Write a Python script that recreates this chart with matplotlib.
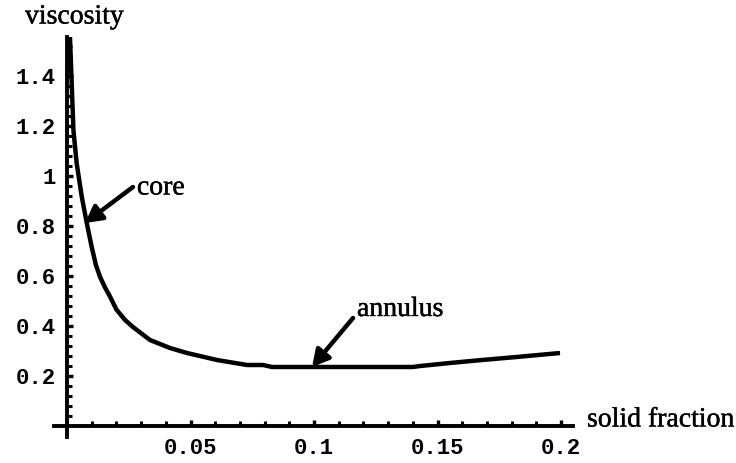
import matplotlib
matplotlib.use("Agg")
import matplotlib.pyplot as plt
import matplotlib.patheffects as pe
import numpy as np
from matplotlib.ticker import FixedLocator

# ---- data ----
solid_fraction = [0.0012, 0.0026, 0.0039, 0.0060, 0.0080, 0.0100, 0.0117, 0.0134,
                  0.0154, 0.0174, 0.0200, 0.0235, 0.0267, 0.0336, 0.0417, 0.0486,
                  0.0607, 0.0729, 0.0794, 0.0830, 0.0900, 0.1000, 0.1100, 0.1200,
                  0.1300, 0.1400, 0.1430, 0.1550, 0.1680, 0.1820, 0.1996]
viscosity = [1.556, 1.184, 1.052, 0.916, 0.812, 0.716, 0.644, 0.596,
             0.554, 0.518, 0.466, 0.424, 0.396, 0.344, 0.312, 0.292,
             0.264, 0.244, 0.244, 0.236, 0.236, 0.236, 0.236, 0.236,
             0.236, 0.236, 0.240, 0.252, 0.264, 0.276, 0.292]

x_ticks = [0.05, 0.1, 0.15, 0.2]
x_tick_labels = ["0.05", "0.1", "0.15", "0.2"]
y_ticks = [0.2, 0.4, 0.6, 0.8, 1.0, 1.2, 1.4]
y_tick_labels = ["0.2", "0.4", "0.6", "0.8", "1", "1.2", "1.4"]

x_label = "solid fraction"
y_label = "viscosity"
annotations = [("core", (0.0073, 0.812), (0.0267, 0.956), (0.0283, 0.952)),
               ("annulus", (0.0992, 0.236), (0.1158, 0.432), (0.1174, 0.466))]

# ---- figure ----
W, H, DPI = 736, 463, 100
fig = plt.figure(figsize=(W / DPI, H / DPI), dpi=DPI)
ax = fig.add_axes([0, 0, 1, 1])

x0_px, x_scale = 67, 2470.0
y0_px, y_scale = 426, 250.0
ax.set_xlim(-x0_px / x_scale, (W - x0_px) / x_scale)
ax.set_ylim(-(H - y0_px) / y_scale, y0_px / y_scale)

ax.plot(solid_fraction, viscosity, color="black", lw=3.2,
        solid_joinstyle="round", solid_capstyle="butt")

for s in ["top", "right"]:
    ax.spines[s].set_visible(False)
ax.spines["left"].set_position(("data", 0))
ax.spines["bottom"].set_position(("data", 0))
ax.spines["left"].set_bounds(-0.044, 1.556)
ax.spines["bottom"].set_bounds(-0.0053, 0.205)
for s in ["left", "bottom"]:
    ax.spines[s].set_linewidth(2.8)
    ax.spines[s].set_color("black")

ax.xaxis.set_major_locator(FixedLocator(x_ticks))
ax.set_xticklabels(x_tick_labels)
ax.xaxis.set_minor_locator(FixedLocator(np.round(np.arange(0.01, 0.2001, 0.01), 4)))
ax.yaxis.set_major_locator(FixedLocator(y_ticks))
ax.set_yticklabels(y_tick_labels)
ax.yaxis.set_minor_locator(FixedLocator(np.round(np.arange(0.04, 1.53, 0.04), 4)))

for lab in ax.get_xticklabels() + ax.get_yticklabels():
    lab.set_fontfamily("Liberation Mono")
    lab.set_fontweight("bold")
    lab.set_fontsize(16)

ax.tick_params(axis="both", which="both", direction="in", color="black")
ax.tick_params(axis="both", which="major", length=4, width=2.4)
ax.tick_params(axis="both", which="minor", length=3.5, width=2.2)
ax.tick_params(axis="x", which="major", pad=9)
ax.tick_params(axis="y", which="major", pad=8)

stroke = [pe.withStroke(linewidth=0.3, foreground="black")]
serif = dict(family="Liberation Serif", size=20, color="black", path_effects=stroke)
fig.text(25 / W, 1 - 17 / H, y_label, ha="left", va="center", **serif)
fig.text(587 / W, 1 - 420 / H, x_label, ha="left", va="center", **serif)

for text, tip, tail, tpos in annotations:
    ax.annotate("", xy=tip, xytext=tail,
                arrowprops=dict(arrowstyle="-|>,head_length=0.55,head_width=0.3",
                                color="black", lw=3.2, mutation_scale=18,
                                shrinkA=0, shrinkB=0))
    ax.text(tpos[0], tpos[1], text, ha="left", va="center", **serif)

fig.savefig("out.png", dpi=DPI, facecolor="white")
